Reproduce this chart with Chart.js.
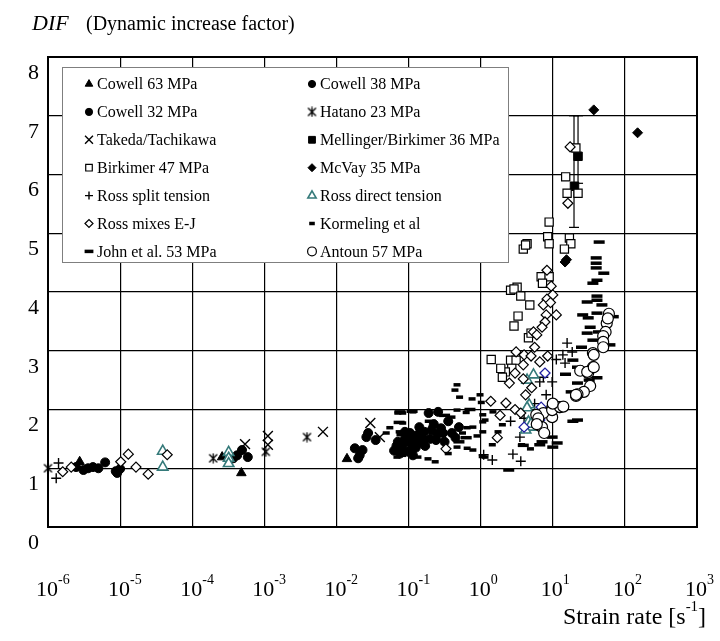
<!DOCTYPE html>
<html>
<head>
<meta charset="utf-8">
<title>DIF vs strain rate</title>
<script src="https://cdn.jsdelivr.net/npm/chart.js@4.4.1/dist/chart.umd.min.js"></script>
<style>
  html, body { margin: 0; padding: 0; background: #fff; }
  canvas { display: block; }
</style>
</head>
<body>
<canvas id="chart" width="720" height="641"></canvas>
<script>
// Axis ticks
const xTickValues = [1e-6, 1e-5, 1e-4, 1e-3, 1e-2, 1e-1, 1, 10, 100, 1000];
const xTickExponents = ['-6', '-5', '-4', '-3', '-2', '-1', '0', '1', '2', '3'];
const yTickValues = [0, 1, 2, 3, 4, 5, 6, 7, 8];

// Series (strain rate in 1/s, DIF)
const cowell63Rate = [2.75e-6, 2.6e-4, 4.8e-4, 1.4e-2];
const cowell63Dif = [1.11, 1.19, 0.92, 1.16];

const cowell38Rate = [2.45e-6, 3.1e-6, 3.6e-6, 4.2e-6, 5.0e-6, 6.2e-6, 3.7e-4, 4.2e-4, 4.9e-4, 5.9e-4,
  1.8e-2, 2.0e-2, 2.1e-2, 2.3e-2, 2.6e-2, 2.75e-2, 3.5e-2];
const cowell38Dif = [1.02, 0.97, 1.0, 1.02, 1.0, 1.1, 1.17, 1.22, 1.31, 1.19,
  1.34, 1.17, 1.22, 1.31, 1.53, 1.6, 1.48];

const cowell32Rate = [8.7e-6, 9.1e-6, 1.0e-5, 0.063, 0.071, 0.076, 0.079, 0.083, 0.089, 0.089,
  0.10, 0.112, 0.126, 0.126, 0.141, 0.151, 0.158, 0.166, 0.19, 0.20,
  0.209, 0.224, 0.251, 0.257, 0.282, 0.316, 0.355, 0.398, 0.447, 0.50,
  0.068, 0.085, 0.095, 0.105, 0.118, 0.135, 0.145, 0.17, 0.24, 0.30, 0.115];
const cowell32Dif = [0.95, 0.92, 0.99, 1.3, 1.45, 1.25, 1.35, 1.4, 1.5, 1.62,
  1.28, 1.4, 1.55, 1.35, 1.7, 1.55, 1.45, 1.62, 1.94, 1.5,
  1.65, 1.75, 1.58, 1.96, 1.68, 1.45, 1.8, 1.6, 1.52, 1.7,
  1.38, 1.3, 1.45, 1.6, 1.5, 1.42, 1.62, 1.38, 1.48, 1.6, 1.22];

const hatanoRate = [1.0e-6, 1.95e-4, 1.05e-3, 3.9e-3];
const hatanoDif = [1.0, 1.17, 1.28, 1.53];

const takedaRate = [5.4e-4, 1.12e-3, 1.12e-3, 6.5e-3, 2.95e-2, 4.0e-2];
const takedaDif = [1.41, 1.55, 1.40, 1.62, 1.77, 1.53];

const mellingerRate = [20.0, 22.4];
const mellingerDif = [5.8, 6.31];
const errorRate = [19.7, 22.4];
const errorLow = [5.1, 5.85];
const errorHigh = [7.0, 7.0];

const birkimerRate = [15.1, 15.8, 22.4, 20.9, 8.9, 8.5, 8.9, 4.4, 3.9, 4.2,
  17.0, 17.8, 14.5, 6.9, 8.9, 7.2, 2.6, 3.2, 2.9, 3.6,
  4.8, 3.3, 2.9, 4.6, 5.0, 2.6, 3.1, 2.7, 2.2, 2.0, 1.4, 1.9];
const birkimerDif = [5.96, 5.68, 5.68, 6.45, 5.19, 4.94, 4.82, 4.82, 4.73, 4.8,
  4.92, 4.82, 4.73, 4.26, 4.26, 4.15, 4.03, 4.08, 4.05, 3.93,
  3.78, 3.59, 3.42, 3.22, 3.3, 2.84, 2.84, 2.7, 2.64, 2.55, 2.85, 2.7];

const mcvayRate = [37, 150, 14.8, 15.5];
const mcvayDif = [7.1, 6.71, 4.51, 4.55];

const rossSplitRate = [1.3e-6, 1.4e-6, 15.8, 13.8, 14.8, 11.2, 18.6, 7.4, 9.8, 6.6,
  8.1, 2.6, 6.6, 3.5, 1.1, 1.45, 2.8, 3.6, 5.6, 4.0];
const rossSplitDif = [0.83, 1.09, 3.13, 2.93, 2.79, 2.85, 2.98, 2.55, 2.47, 2.47,
  2.25, 1.80, 1.65, 1.53, 1.23, 1.14, 1.24, 1.12, 2.1, 1.85];

const rossDirectRate = [3.9e-5, 3.9e-5, 3.2e-4, 3.2e-4, 3.2e-4, 5.4, 4.4, 4.7, 4.4, 4.6, 4.8, 4.2, 5.0];
const rossDirectDif = [1.29, 1.02, 1.27, 1.17, 1.08, 2.59, 2.5, 2.08, 2.03, 1.79, 1.70, 1.65, 1.75];

const rossMixRate = [1.6e-6, 2.1e-6, 1.02e-5, 1.3e-5, 1.66e-5, 2.45e-5, 4.5e-5,
  16.2, 17.4, 8.3, 9.5, 10, 8.3, 7.4, 9.3, 11.2, 8.1, 7.8, 7.1, 5.4, 6.0, 5.6,
  3.1, 4.0, 5.0, 6.6, 8.5, 3.9, 3.0, 3.9, 5.1, 1.38, 2.24, 3.0, 3.6, 1.86, 1.7, 0.33, 4.2, 2.5];
const rossMixDif = [0.94, 1.02, 1.11, 1.24, 1.02, 0.9, 1.23,
  5.51, 6.47, 4.37, 4.1, 3.95, 3.88, 3.78, 3.82, 3.61, 3.61, 3.49, 3.4, 3.32, 3.27, 3.06,
  2.98, 2.93, 2.91, 2.81, 2.91, 2.76, 2.62, 2.52, 2.37, 2.14, 2.11, 2.0, 1.94, 1.9, 1.52, 1.33, 2.25, 2.45];
const rossMixBlueRate = [7.8, 6.9, 6.6, 4.0];
const rossMixBlueDif = [2.62, 2.04, 1.82, 1.70];

const kormelingRate = [0.049, 0.055, 0.071, 0.083, 0.115, 0.083, 0.076, 0.069, 0.083, 0.135,
  0.186, 0.234, 0.47, 0.44, 0.51, 0.76, 0.98, 1.02, 1.07, 1.07,
  1.07, 1.48, 2.0, 1.45, 1.15, 3.7, 4.9, 0.47, 0.65, 0.78,
  0.65, 0.78, 0.40, 0.47, 0.145, 0.29, 0.21, 0.095, 0.178, 0.89,
  0.63, 0.355, 0.56, 1.05, 1.15, 1.74];
const kormelingDif = [1.6, 1.69, 1.94, 1.94, 1.96, 1.77, 1.57, 1.19, 1.22, 1.19,
  1.16, 1.11, 2.42, 2.33, 2.21, 2.18, 2.25, 2.12, 1.91, 1.79,
  1.62, 1.96, 1.74, 1.40, 1.19, 1.40, 1.33, 1.36, 1.34, 1.31,
  1.69, 1.70, 1.87, 1.99, 1.48, 1.48, 1.70, 1.43, 1.52, 1.55,
  1.95, 1.25, 1.6, 1.2, 1.82, 1.62];

const johnRate = [44, 40, 40, 40, 51, 41, 36, 41, 41, 30,
  48, 26, 31, 41, 69, 33, 30, 43, 36, 62,
  25, 19, 22, 33, 41, 32, 22, 18, 14, 15,
  22, 19, 9.8, 11.5, 10, 7.1, 6.6, 3.9, 2.45, 0.076,
  0.112, 0.074, 0.079, 0.2, 0.316, 0.71, 0.5, 0.63];
const johnDif = [4.85, 4.58, 4.49, 4.41, 4.32, 4.2, 4.15, 3.93, 3.86, 3.83,
  3.78, 3.61, 3.56, 3.64, 3.58, 3.4, 3.3, 3.32, 3.18, 3.1,
  3.06, 2.84, 2.72, 2.67, 2.54, 2.5, 2.45, 2.3, 2.05, 2.6,
  1.82, 1.80, 1.53, 1.43, 1.36, 1.45, 1.40, 1.39, 0.97, 1.96,
  1.97, 1.78, 1.62, 1.8, 1.9, 2.0, 1.45, 1.52];

const antounRate = [60, 56, 54, 50, 50, 50, 58, 36, 36, 24,
  31, 30, 33, 27, 22, 21, 12.3, 9.8, 9.8, 7.4,
  7.1, 5.9, 9.8, 12.6, 21, 37, 37, 6.3, 7.6, 6.0, 10, 14];
const antounDif = [3.63, 3.47, 3.32, 3.25, 3.15, 3.06, 3.55, 2.96, 2.72, 2.66,
  2.62, 2.64, 2.4, 2.3, 2.26, 2.23, 2.04, 2.03, 1.87, 1.94,
  1.70, 1.91, 1.99, 2.04, 2.25, 2.93, 2.72, 1.85, 1.60, 1.75, 2.1, 2.05];

// Legend order (two columns, row by row)
const legendLabels = ['Cowell 63 MPa', 'Cowell 38 MPa', 'Cowell 32 MPa', 'Hatano 23 MPa',
  'Takeda/Tachikawa', 'Mellinger/Birkimer 36 MPa', 'Birkimer 47 MPa', 'McVay 35 MPa',
  'Ross split tension', 'Ross direct tension', 'Ross mixes E-J', 'Kormeling et al',
  'John et al. 53 MPa', 'Antoun 57 MPa'];

const SERIF = '"Liberation Serif", "Times New Roman", serif';
const TEAL = '#357a7a';

// Hatano marker: a cross with a vertical bar
function asteriskMark() {
  const c = document.createElement('canvas');
  c.width = 11; c.height = 11;
  const g = c.getContext('2d');
  g.strokeStyle = '#000';
  g.lineWidth = 1.3;
  g.beginPath();
  g.moveTo(1.5, 1.5); g.lineTo(9.5, 9.5);
  g.moveTo(9.5, 1.5); g.lineTo(1.5, 9.5);
  g.moveTo(5.5, 0.5); g.lineTo(5.5, 10.5);
  g.stroke();
  return c;
}

function points(rates, difs) {
  return rates.map((r, i) => ({ x: r, y: difs[i] }));
}

function series(label, rates, difs, style) {
  return Object.assign({
    label: label,
    data: points(rates, difs),
    showLine: false,
    clip: false,
    pointBackgroundColor: '#000',
    pointBorderColor: '#000',
    pointBorderWidth: 1,
    pointRadius: 4.5
  }, style);
}

const open = { pointBackgroundColor: '#fff', pointBorderWidth: 1.2 };

const datasets = [
  series('Cowell 63 MPa', cowell63Rate, cowell63Dif, { pointStyle: 'triangle', pointRadius: 5.5 }),
  series('Cowell 38 MPa', cowell38Rate, cowell38Dif, { pointStyle: 'circle', pointRadius: 4.5 }),
  series('Cowell 32 MPa', cowell32Rate, cowell32Dif, { pointStyle: 'circle', pointRadius: 4.5 }),
  series('Hatano 23 MPa', hatanoRate, hatanoDif, { pointStyle: asteriskMark() }),
  series('Takeda/Tachikawa', takedaRate, takedaDif, { pointStyle: 'crossRot', pointRadius: 7, pointBorderWidth: 1.4 }),
  series('Mellinger/Birkimer 36 MPa', mellingerRate, mellingerDif, { pointStyle: 'rect', pointRadius: 6 }),
  series('Birkimer 47 MPa', birkimerRate, birkimerDif, Object.assign({ pointStyle: 'rect', pointRadius: 5.8 }, open)),
  series('McVay 35 MPa', mcvayRate, mcvayDif, { pointStyle: 'rectRot', pointRadius: 5 }),
  series('Ross split tension', rossSplitRate, rossSplitDif, { pointStyle: 'cross', pointRadius: 5, pointBorderWidth: 1.4 }),
  series('Ross direct tension', rossDirectRate, rossDirectDif, { pointStyle: 'triangle', pointRadius: 6, pointBackgroundColor: '#fff', pointBorderColor: TEAL, pointBorderWidth: 1.6 }),
  series('Ross mixes E-J', rossMixRate, rossMixDif, Object.assign({ pointStyle: 'rectRot', pointRadius: 5 }, open)),
  series('Ross mixes E-J (blue)', rossMixBlueRate, rossMixBlueDif, { pointStyle: 'rectRot', pointRadius: 5, pointBackgroundColor: '#fff', pointBorderColor: '#1e1ea0', pointBorderWidth: 1.3 }),
  series('Kormeling et al', kormelingRate, kormelingDif, { pointStyle: 'line', pointRadius: 3.5, pointBorderWidth: 3.5 }),
  series('John et al. 53 MPa', johnRate, johnDif, { pointStyle: 'line', pointRadius: 5.5, pointBorderWidth: 3.5 }),
  series('Antoun 57 MPa', antounRate, antounDif, Object.assign({ pointStyle: 'circle', pointRadius: 5.5, pointBorderWidth: 1.4 }, open))
];

// later series drawn on top, like the original spreadsheet
datasets.forEach((d, i) => { d.order = 100 - i; });

// error bars of the Mellinger/Birkimer data
errorRate.forEach((r, i) => {
  datasets.push({
    label: 'error ' + i,
    type: 'line',
    data: [{ x: r, y: errorLow[i] }, { x: r, y: errorHigh[i] }],
    showLine: true,
    borderColor: '#000',
    borderWidth: 1.2,
    pointStyle: 'line',
    pointRadius: 5,
    pointBorderColor: '#000',
    pointBorderWidth: 1.2,
    clip: false,
    order: 200
  });
});

const decor = {
  id: 'decor',
  afterDraw(chart) {
    const { ctx, chartArea: a, scales: { x, y } } = chart;
    ctx.save();

    // plot frame
    ctx.strokeStyle = '#000';
    ctx.lineWidth = 2;
    ctx.strokeRect(a.left, a.top, a.right - a.left, a.bottom - a.top);

    ctx.fillStyle = '#000';

    // y tick labels
    ctx.font = '22px ' + SERIF;
    ctx.textAlign = 'right';
    ctx.textBaseline = 'middle';
    yTickValues.forEach(v => {
      ctx.fillText(String(v), a.left - 9, y.getPixelForValue(v) + 16);
    });

    // x tick labels, 10 with exponent
    ctx.textBaseline = 'alphabetic';
    xTickValues.forEach((v, i) => {
      const px = x.getPixelForValue(v);
      ctx.font = '22px ' + SERIF;
      ctx.textAlign = 'center';
      ctx.fillText('10', px - 1, 596);
      ctx.font = '14px ' + SERIF;
      ctx.textAlign = 'left';
      ctx.fillText(xTickExponents[i], px + 10, 584);
    });

    // axis title (x)
    ctx.font = '24px ' + SERIF;
    ctx.textAlign = 'left';
    let tx = 563;
    ctx.fillText('Strain rate [s', tx, 624);
    tx += ctx.measureText('Strain rate [s').width;
    ctx.font = '15px ' + SERIF;
    ctx.fillText('-1', tx, 611);
    tx += ctx.measureText('-1').width;
    ctx.font = '24px ' + SERIF;
    ctx.fillText(']', tx, 624);

    // title (y)
    ctx.font = 'italic 22px ' + SERIF;
    ctx.fillText('DIF', 32, 30);
    ctx.font = '20px ' + SERIF;
    ctx.fillText('(Dynamic increase factor)', 86, 30);

    // legend box
    const lx = 62, ly = 67, lw = 446, lh = 195;
    ctx.fillStyle = '#fff';
    ctx.fillRect(lx, ly, lw, lh);
    ctx.strokeStyle = '#7f7f7f';
    ctx.lineWidth = 1;
    ctx.strokeRect(lx + 0.5, ly + 0.5, lw, lh);

    ctx.font = '16px ' + SERIF;
    ctx.textBaseline = 'middle';
    legendLabels.forEach((label, i) => {
      const ds = chart.data.datasets.find(d => d.label === label);
      const col = i % 2, row = Math.floor(i / 2);
      const mx = col === 0 ? 89 : 312;
      const my = 84 + row * 27.9;
      ctx.fillStyle = ds.pointBackgroundColor;
      ctx.strokeStyle = ds.pointBorderColor;
      ctx.lineWidth = ds.pointBorderWidth;
      Chart.helpers.drawPoint(ctx, {
        pointStyle: ds.pointStyle,
        radius: ds.pointRadius * 0.8,
        rotation: 0,
        borderWidth: ds.pointBorderWidth
      }, mx, my);
      ctx.fillStyle = '#000';
      ctx.textAlign = 'left';
      ctx.fillText(label, mx + 8, my + 1);
    });

    ctx.restore();
  }
};

const gridStyle = { color: '#000', lineWidth: 1.2, drawTicks: false };

new Chart(document.getElementById('chart'), {
  type: 'scatter',
  data: { datasets: datasets },
  options: {
    responsive: false,
    animation: false,
    layout: { padding: { left: 48, right: 23, top: 57, bottom: 114 } },
    plugins: { legend: { display: false }, tooltip: { enabled: false } },
    scales: {
      x: {
        type: 'logarithmic',
        min: 1e-6,
        max: 1e3,
        afterBuildTicks: scale => { scale.ticks = xTickValues.map(v => ({ value: v })); },
        ticks: { display: false },
        grid: gridStyle,
        border: { display: false }
      },
      y: {
        min: 0,
        max: 8,
        ticks: { display: false, stepSize: 1 },
        grid: gridStyle,
        border: { display: false }
      }
    }
  },
  plugins: [decor]
});
</script>
</body>
</html>
